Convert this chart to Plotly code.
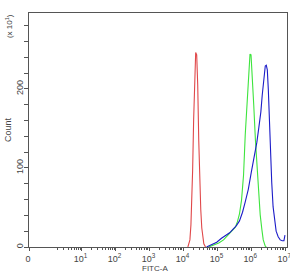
import numpy as np
import plotly.graph_objects as go

# log10(FITC-A) positions and counts (x10^1)
red_log = [4.13, 4.19, 4.22, 4.25, 4.27, 4.30, 4.33, 4.36, 4.39, 4.42, 4.45, 4.48, 4.51, 4.54, 4.57, 4.60, 4.65]
red_cnt = [0, 9, 28, 59, 97, 161, 218, 246, 243, 205, 135, 85, 47, 24, 11, 4, 0]

green_log = [4.74, 4.89, 5.04, 5.18, 5.33, 5.44, 5.53, 5.59, 5.65, 5.71, 5.77, 5.82, 5.87, 5.91, 5.96,
             5.99, 6.03, 6.07, 6.12, 6.18, 6.22, 6.26, 6.31, 6.35, 6.41, 6.44]
green_cnt = [0, 3, 5, 9, 16, 22, 25, 32, 42, 59, 91, 142, 180, 218, 244,
             243, 218, 180, 135, 91, 62, 41, 22, 9, 1, 0]

blue_log = [4.68, 4.83, 4.98, 5.12, 5.24, 5.36, 5.47, 5.56, 5.65, 5.74, 5.82, 5.91, 6.00, 6.09, 6.16,
            6.22, 6.28, 6.32, 6.37, 6.41, 6.44, 6.47, 6.50, 6.53, 6.56, 6.60, 6.64, 6.69, 6.73, 6.79,
            6.85, 6.91, 6.96, 6.99]
blue_cnt = [0, 3, 6, 11, 14, 18, 23, 27, 33, 44, 57, 73, 95, 115, 132,
            151, 171, 192, 215, 229, 230, 224, 199, 161, 123, 82, 51, 32, 20, 13,
            9, 8, 8, 15]

x_major_vals_log = [-0.55, 1, 2, 3, 4, 5, 6, 7]
x_major_text = ["0", "10<sup>1</sup>", "10<sup>2</sup>", "10<sup>3</sup>", "10<sup>4</sup>",
                "10<sup>5</sup>", "10<sup>6</sup>", "10<sup>7</sup>"]
y_major_vals = [0, 100, 200]
y_major_text = ["0", "100", "200"]

minor_x = [m * 10.0 ** k for k in range(0, 7) for m in range(2, 10)]

fig = go.Figure()
for lg, cnt, col in [(red_log, red_cnt, "#e0484a"),
                     (green_log, green_cnt, "#3ee43e"),
                     (blue_log, blue_cnt, "#1c1cc8")]:
    fig.add_trace(go.Scatter(x=10 ** np.array(lg), y=cnt, mode="lines",
                             line=dict(color=col, width=1.1), showlegend=False,
                             hoverinfo="skip"))

axis_col = "#555555"
font_fam = "Liberation Sans, Arial, sans-serif"
fig.update_layout(
    width=290, height=275,
    margin=dict(l=29, r=3, t=13, b=28, autoexpand=False),
    paper_bgcolor="white", plot_bgcolor="white",
    font=dict(family=font_fam, size=9, color="#444444"),
    xaxis=dict(type="log", range=[-0.55, 7.05], showgrid=False, zeroline=False,
               automargin=False,
               showline=True, linecolor=axis_col, linewidth=1, mirror=True,
               tickmode="array", tickvals=[10 ** v for v in x_major_vals_log],
               ticktext=x_major_text, ticks="outside", ticklen=3, tickcolor=axis_col,
               tickfont=dict(size=9, color="#444444"), ticklabeloverflow="allow",
               ticklabelshift=-1,
               minor=dict(tickmode="array", tickvals=minor_x, ticks="outside", ticklen=2,
                          tickcolor=axis_col, showgrid=False)),
    yaxis=dict(range=[0, 296], showgrid=False, zeroline=False, automargin=False,
               showline=True, linecolor=axis_col, linewidth=1, mirror=True,
               tickmode="array", tickvals=y_major_vals, ticktext=y_major_text,
               ticks="outside", ticklen=4, tickcolor=axis_col, tickangle=-90,
               tickfont=dict(size=9, color="#444444"), ticklabelstandoff=-3,
               minor=dict(dtick=20, ticks="outside", ticklen=4, tickcolor=axis_col,
                          showgrid=False)),
    annotations=[
        dict(text="Count", xref="paper", yref="paper", x=0, y=0.5, xshift=-21,
             xanchor="center", yanchor="middle", textangle=-90, showarrow=False,
             font=dict(size=9, color="#444444")),
        dict(text="(x 10<sup>1</sup>)", xref="paper", yref="paper", x=0, y=0.944, xshift=-20,
             xanchor="center", yanchor="middle", textangle=-90, showarrow=False,
             font=dict(size=8, color="#444444")),
        dict(text="FITC-A", xref="paper", yref="paper", x=0.49, y=0, yshift=-15,
             yanchor="top", showarrow=False, font=dict(size=8, color="#444444")),
    ],
)

fig.write_html("out.html")
